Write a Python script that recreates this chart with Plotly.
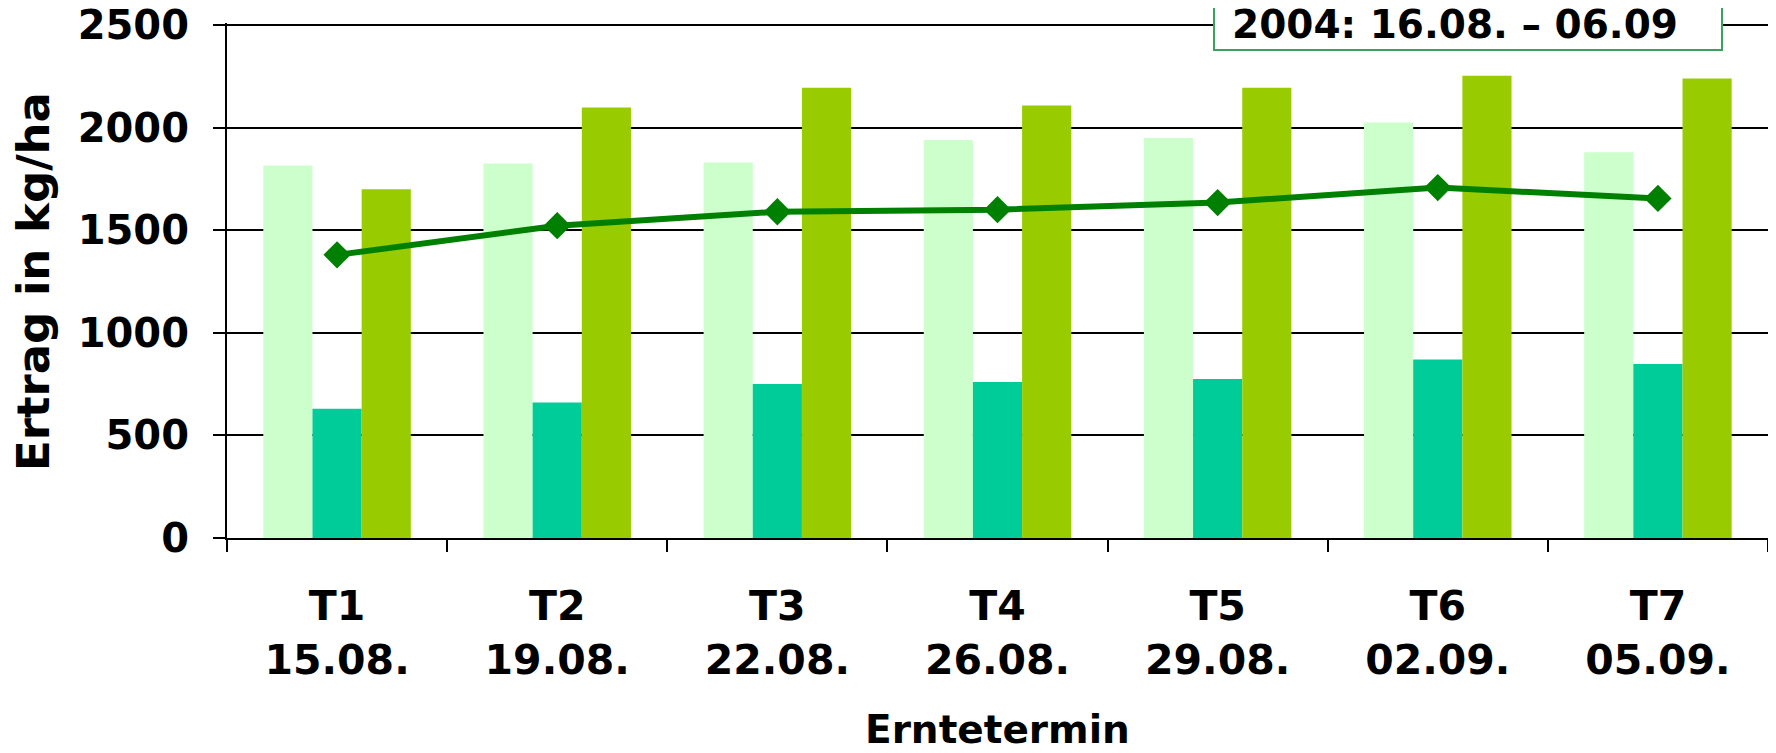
import plotly.graph_objects as go

categories = ["T1<br>15.08.", "T2<br>19.08.", "T3<br>22.08.", "T4<br>26.08.",
              "T5<br>29.08.", "T6<br>02.09.", "T7<br>05.09."]
light_vals = [1815, 1825, 1830, 1940, 1950, 2025, 1880]
teal_vals = [630, 660, 750, 760, 775, 870, 848]
yg_vals = [1700, 2098, 2195, 2108, 2195, 2253, 2240]
line_vals = [1380, 1522, 1590, 1600, 1635, 1708, 1655]
y_ticks = [0, 500, 1000, 1500, 2000, 2500]
box_text = "2004: 16.08. – 06.09"
y_title = "Ertrag in kg/ha"
x_title = "Erntetermin"

FONT = "DejaVu Sans"

fig = go.Figure()
fig.add_trace(go.Bar(x=categories, y=light_vals, marker=dict(color="#CCFFCC", line=dict(width=0)), showlegend=False))
fig.add_trace(go.Bar(x=categories, y=teal_vals, marker=dict(color="#00CC99", line=dict(width=0)), showlegend=False))
fig.add_trace(go.Bar(x=categories, y=yg_vals, marker=dict(color="#99CC00", line=dict(width=0)), showlegend=False))
fig.add_trace(go.Scatter(x=categories, y=line_vals, mode="lines+markers",
                         line=dict(color="#008000", width=6),
                         marker=dict(symbol="diamond", size=21, color="#008000"),
                         showlegend=False))

# page body has an 8px margin: figure placed at (8, 8)
OFF = 8
W, H = 1776 - 2 * OFF, 753 - 2 * OFF
YMAX = 2510  # small headroom so the 2500 gridline is drawn
# plot area in window coordinates: x 227..1768, y (25 - 2)..538
L = 227 - OFF
R = W - (1768 - OFF)
T = 23 - OFF
B = H - (538 - OFF)
pw = W - L - R
ph = H - T - B


def px_x(px):
    return (px - OFF - L) / pw


def px_y(py):
    return (H - B - (py - OFF)) / ph


fig.update_layout(
    width=W, height=H,
    margin=dict(l=L, r=R, t=T, b=B, pad=0),
    paper_bgcolor="white", plot_bgcolor="white",
    barmode="group", bargap=0.33, bargroupgap=0,
    font=dict(family=FONT, color="black", size=40, weight="bold"),
    xaxis=dict(
        type="category", automargin=False,
        showline=True, linecolor="black", linewidth=2,
        ticks="outside", ticklen=12, tickwidth=2, tickcolor="black",
        tickson="boundaries", ticklabelstandoff=31,
        tickfont=dict(family=FONT, size=41, color="black", weight="bold"),
        showgrid=False,
    ),
    yaxis=dict(
        range=[0, YMAX], tickvals=y_ticks, automargin=False,
        showline=True, linecolor="black", linewidth=2,
        ticks="outside", ticklen=12, tickwidth=2, tickcolor="black",
        ticklabelstandoff=16, ticklabeloverflow="allow",
        showgrid=True, gridcolor="black", gridwidth=2,
        zeroline=False,
        tickfont=dict(family=FONT, size=40, color="black", weight="bold"),
    ),
)

# axis titles
fig.add_annotation(xref="paper", yref="paper", x=px_x(33), y=px_y(282),
                   text=y_title, textangle=-90, showarrow=False,
                   xanchor="center", yanchor="middle",
                   font=dict(family=FONT, size=45, color="black", weight="bold"))
fig.add_annotation(xref="paper", yref="paper", x=px_x(997), y=px_y(729),
                   text=x_title, showarrow=False,
                   xanchor="center", yanchor="middle",
                   font=dict(family=FONT, size=39, color="black", weight="bold"))

# annotation box (top right), extends beyond the top edge
x0 = px_x(1214)
x1 = px_x(1722)
y0 = px_y(50)
y1 = px_y(-10)
fig.add_shape(type="rect", xref="paper", yref="paper", x0=x0, x1=x1, y0=y0, y1=y1,
              line=dict(color="#3CA060", width=2), fillcolor="white", layer="above")
fig.add_annotation(xref="paper", yref="paper", x=px_x(1455), y=px_y(25),
                   text=box_text, showarrow=False, xanchor="center", yanchor="middle",
                   font=dict(family=FONT, size=39, color="black", weight="bold"))

fig.write_html("out.html")
